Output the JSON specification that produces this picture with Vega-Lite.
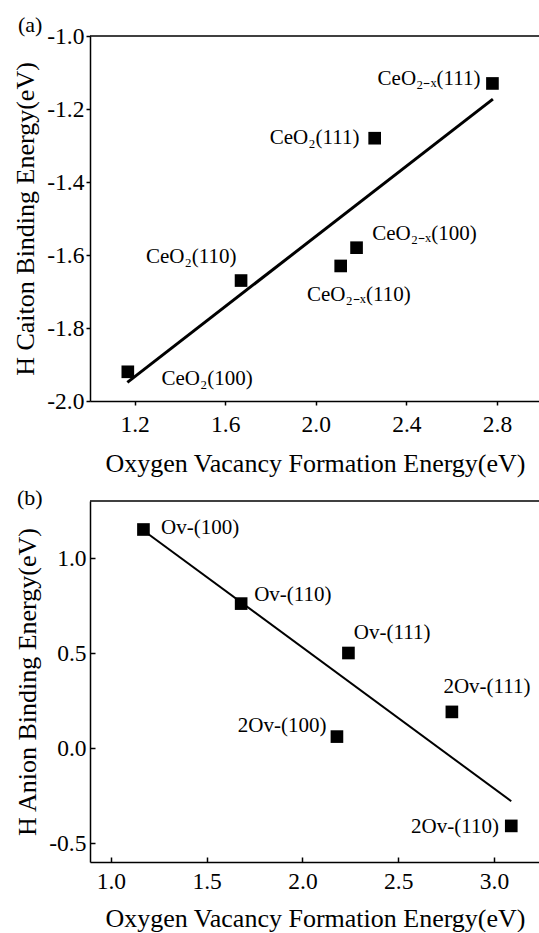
{
  "$schema": "https://vega.github.io/schema/vega-lite/v6.json",
  "background": "white",
  "padding": {"left": 12, "top": 14, "right": 0, "bottom": 0},
  "spacing": 100,
  "bounds": "flush",
  "config": {
    "font": "Liberation Serif",
    "view": {"stroke": null},
    "axis": {
      "domainColor": "black", "domainWidth": 1.5, "tickColor": "black", "tickWidth": 1.5,
      "grid": false, "labelFont": "Liberation Serif", "labelFontSize": 23.5, "labelColor": "black",
      "titleFont": "Liberation Serif", "titleFontSize": 26, "titleFontWeight": "normal", "titleColor": "black"
    },
    "title": {"font": "Liberation Serif", "fontSize": 22, "fontWeight": "normal", "anchor": "start", "frame": "group", "color": "black"},
    "text": {"font": "Liberation Serif", "fontSize": 21, "color": "black", "align": "center", "baseline": "middle"}
  },
  "datasets": {
    "a_points": [
      {"x": 1.17, "y": -1.92, "label": "CeO₂(100)", "lx": 1.52, "ly": -1.94},
      {"x": 1.67, "y": -1.67, "label": "CeO₂(110)", "lx": 1.45, "ly": -1.605},
      {"x": 2.26, "y": -1.28, "label": "CeO₂(111)", "lx": 1.995, "ly": -1.28},
      {"x": 2.78, "y": -1.13, "label": "CeO₂₋ₓ(111)", "lx": 2.5, "ly": -1.118},
      {"x": 2.18, "y": -1.58, "label": "CeO₂₋ₓ(100)", "lx": 2.48, "ly": -1.542},
      {"x": 2.11, "y": -1.63, "label": "CeO₂₋ₓ(110)", "lx": 2.19, "ly": -1.71}
    ],
    "a_fit": [{"x": 1.168, "y": -1.949}, {"x": 2.782, "y": -1.173}],
    "b_points": [
      {"x": 1.17, "y": 1.15, "label": "Ov-(100)", "lx": 1.466, "ly": 1.156},
      {"x": 1.68, "y": 0.76, "label": "Ov-(110)", "lx": 1.95, "ly": 0.805},
      {"x": 2.24, "y": 0.5, "label": "Ov-(111)", "lx": 2.468, "ly": 0.607},
      {"x": 2.78, "y": 0.19, "label": "2Ov-(111)", "lx": 2.963, "ly": 0.323},
      {"x": 2.18, "y": 0.06, "label": "2Ov-(100)", "lx": 1.894, "ly": 0.116},
      {"x": 3.09, "y": -0.41, "label": "2Ov-(110)", "lx": 2.796, "ly": -0.414}
    ],
    "b_fit": [{"x": 1.17, "y": 1.145}, {"x": 3.09, "y": -0.28}]
  },
  "vconcat": [
    {
      "width": 450, "height": 365,
      "title": {"text": "(a)", "dx": -72, "offset": 2, "dy": 15},
      "encoding": {
        "x": {"type": "quantitative", "scale": {"domain": [1.003, 2.99], "nice": false, "zero": false}},
        "y": {"type": "quantitative", "scale": {"domain": [-2.0, -1.0], "nice": false, "zero": false}}
      },
      "layer": [
        {
          "data": {"name": "a_fit"},
          "mark": {"type": "line", "color": "black", "strokeWidth": 3},
          "encoding": {
            "x": {"field": "x", "type": "quantitative",
              "axis": {"title": "Oxygen Vacancy Formation Energy(eV)", "values": [1.2, 1.6, 2.0, 2.4, 2.8], "labelExpr": "replace(format(datum.value, '.1f'), '−', '-')", "tickSize": 4, "labelPadding": 7, "titlePadding": 14.5}},
            "y": {"field": "y", "type": "quantitative",
              "axis": {"title": "H Caiton Binding Energy(eV)", "values": [-2.0, -1.8, -1.6, -1.4, -1.2, -1.0], "labelExpr": "replace(format(datum.value, '.1f'), '−', '-')", "tickSize": 4, "labelPadding": 2, "titlePadding": 8}}
          }
        },
        {
          "data": {"values": [{}]},
          "mark": {"type": "rule", "color": "black", "strokeWidth": 1.5},
          "encoding": {"y": {"datum": -1.0}}
        },
        {
          "data": {"name": "a_points"},
          "mark": {"type": "point", "shape": "square", "filled": true, "color": "black", "size": 160, "opacity": 1},
          "encoding": {"x": {"field": "x"}, "y": {"field": "y"}}
        },
        {
          "data": {"name": "a_points"},
          "mark": {"type": "text"},
          "encoding": {"x": {"field": "lx"}, "y": {"field": "ly"}, "text": {"field": "label"}}
        }
      ]
    },
    {
      "width": 450, "height": 361,
      "title": {"text": "(b)", "dx": -73, "offset": 2, "dy": 12},
      "encoding": {
        "x": {"type": "quantitative", "scale": {"domain": [0.891, 3.24], "nice": false, "zero": false}},
        "y": {"type": "quantitative", "scale": {"domain": [-0.6, 1.3], "nice": false, "zero": false}}
      },
      "layer": [
        {
          "data": {"name": "b_fit"},
          "mark": {"type": "line", "color": "black", "strokeWidth": 2},
          "encoding": {
            "x": {"field": "x", "type": "quantitative",
              "axis": {"title": "Oxygen Vacancy Formation Energy(eV)", "values": [1.0, 1.5, 2.0, 2.5, 3.0], "labelExpr": "replace(format(datum.value, '.1f'), '−', '-')", "tickSize": -5, "labelPadding": 12, "titlePadding": 13}},
            "y": {"field": "y", "type": "quantitative",
              "axis": {"title": "H Anion Binding Energy(eV)", "values": [-0.5, 0.0, 0.5, 1.0], "labelExpr": "replace(format(datum.value, '.1f'), '−', '-')", "tickSize": -5, "labelPadding": 9, "titlePadding": 8}}
          }
        },
        {
          "data": {"values": [{}]},
          "mark": {"type": "rule", "color": "black", "strokeWidth": 1.5},
          "encoding": {"y": {"datum": 1.3}}
        },
        {
          "data": {"name": "b_points"},
          "mark": {"type": "point", "shape": "square", "filled": true, "color": "black", "size": 160, "opacity": 1},
          "encoding": {"x": {"field": "x"}, "y": {"field": "y"}}
        },
        {
          "data": {"name": "b_points"},
          "mark": {"type": "text"},
          "encoding": {"x": {"field": "lx"}, "y": {"field": "ly"}, "text": {"field": "label"}}
        }
      ]
    }
  ]
}
